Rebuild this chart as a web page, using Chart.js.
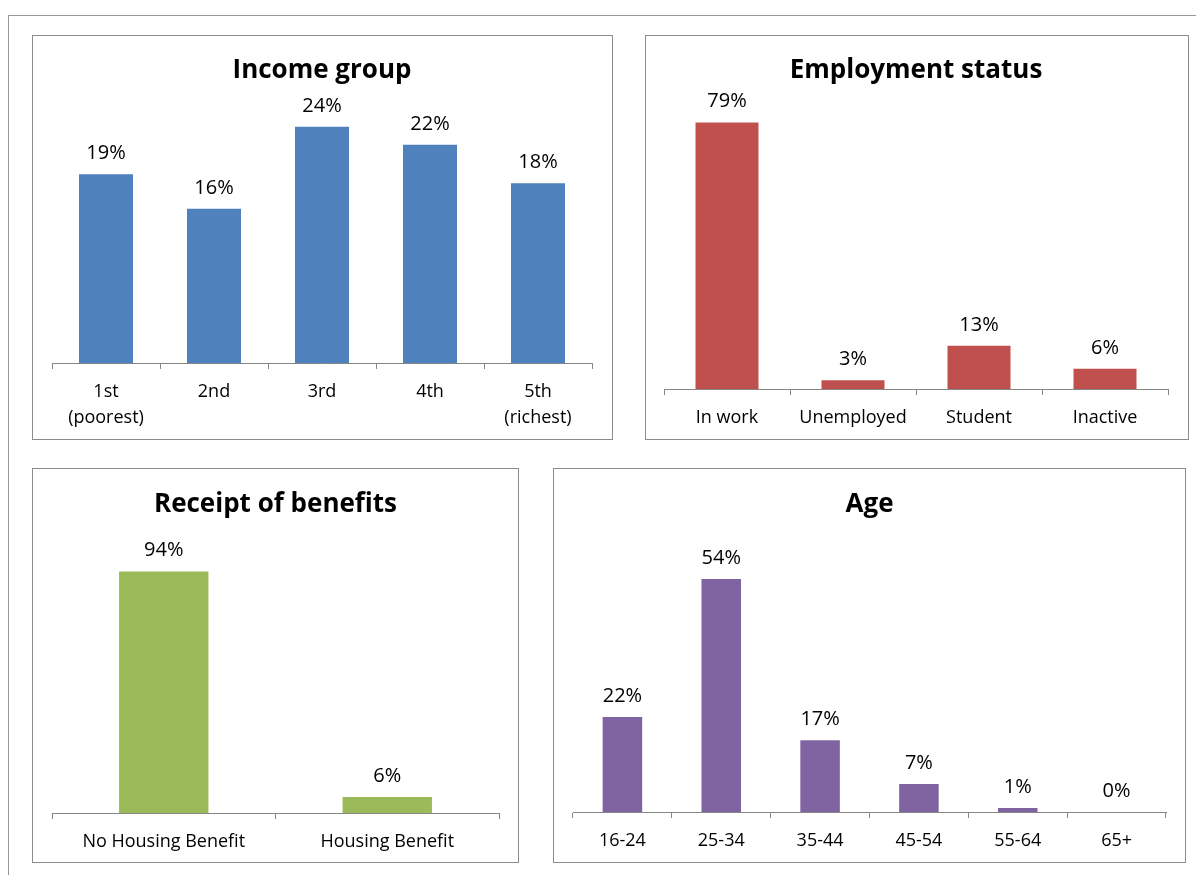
<!DOCTYPE html>
<html>
<head>
<meta charset="utf-8">
<script src="https://cdn.jsdelivr.net/npm/chart.js@4"></script>
<style>
  html, body { margin: 0; padding: 0; background: #fff; }
  body { width: 1196px; height: 875px; position: relative; overflow: hidden; font-family: "Open Sans", sans-serif; }
  .frameTop { position: absolute; left: 8px; top: 15px; width: 1188px; height: 0; border-top: 1px solid #9a9a9a; }
  .frameLeft { position: absolute; left: 8px; top: 15px; width: 0; height: 860px; border-left: 1px solid #9a9a9a; }
  .box { position: absolute; border: 1px solid #8c8c8c; box-sizing: border-box; background: #fff; }
  .box canvas { position: absolute; left: 0; top: 0; }
</style>
</head>
<body>
<div class="frameTop"></div>
<div class="frameLeft"></div>
<div class="box" id="boxIncome"><canvas id="cIncome"></canvas></div>
<div class="box" id="boxEmp"><canvas id="cEmp"></canvas></div>
<div class="box" id="boxBen"><canvas id="cBen"></canvas></div>
<div class="box" id="boxAge"><canvas id="cAge"></canvas></div>
<script>
// ---------- data ----------
const incomeCategories = [['1st', '(poorest)'], '2nd', '3rd', '4th', ['5th', '(richest)']];
const incomeValues = [19.1, 15.6, 23.9, 22.1, 18.2];

const employmentCategories = ['In work', 'Unemployed', 'Student', 'Inactive'];
const employmentValues = [79, 2.6, 12.8, 6];

const benefitCategories = ['No Housing Benefit', 'Housing Benefit'];
const benefitValues = [94, 6.2];

const ageCategories = ['16-24', '25-34', '35-44', '45-54', '55-64', '65+'];
const ageValues = [22, 54, 16.6, 6.5, 0.9, 0];

// ---------- layout (page pixels) ----------
const charts = [
  { canvas: 'cIncome', box: 'boxIncome', title: 'Income group', cats: incomeCategories, vals: incomeValues,
    color: '#4F81BD', bx: 32, by: 35, bw: 581, bh: 405, left: 52, right: 592, axisY: 363, areaTop: 116, titleY: 71, yMax: 25, barPct: 0.5 },
  { canvas: 'cEmp', box: 'boxEmp', title: 'Employment status', cats: employmentCategories, vals: employmentValues,
    color: '#C0504D', bx: 645, by: 35, bw: 544, bh: 405, left: 664, right: 1168, axisY: 389, areaTop: 119, titleY: 71, yMax: 80, barPct: 0.5 },
  { canvas: 'cBen', box: 'boxBen', title: 'Receipt of benefits', cats: benefitCategories, vals: benefitValues,
    color: '#9BBB59', bx: 32, by: 468, bw: 487, bh: 395, left: 52, right: 499, axisY: 813, areaTop: 556, titleY: 505, yMax: 100, barPct: 0.4 },
  { canvas: 'cAge', box: 'boxAge', title: 'Age', cats: ageCategories, vals: ageValues,
    color: '#8064A2', bx: 553, by: 468, bw: 633, bh: 395, left: 573, right: 1166, axisY: 812, areaTop: 553, titleY: 505, yMax: 60, barPct: 0.4 }
];

const FONT = '"Open Sans", sans-serif';
const TITLE_SIZE = 26, TITLE_LH = 30;

const valueLabels = {
  id: 'valueLabels',
  afterDatasetsDraw(chart) {
    const ctx = chart.ctx;
    const meta = chart.getDatasetMeta(0);
    const data = chart.data.datasets[0].data;
    ctx.save();
    ctx.font = '20px ' + FONT;
    ctx.fillStyle = '#000';
    ctx.textAlign = 'center';
    ctx.textBaseline = 'alphabetic';
    meta.data.forEach((bar, i) => {
      ctx.fillText(Math.round(data[i]) + '%', bar.x, bar.y - 15);
    });
    ctx.restore();
  }
};

charts.forEach(c => {
  const box = document.getElementById(c.box);
  box.style.left = c.bx + 'px';
  box.style.top = c.by + 'px';
  box.style.width = c.bw + 'px';
  box.style.height = c.bh + 'px';
  const cv = document.getElementById(c.canvas);
  const cw = c.bw - 2, ch = c.bh - 2;
  cv.style.width = cw + 'px';
  cv.style.height = ch + 'px';
  cv.width = cw; cv.height = ch;
  const cLeft = c.bx + 1, cTop = c.by + 1, cRight = c.bx + c.bw - 1, cBottom = c.by + c.bh - 1;
  const tPadTop = c.titleY - cTop - TITLE_LH / 2;
  const tPadBottom = c.areaTop - cTop - tPadTop - TITLE_LH;
  const axisH = cBottom - c.axisY;

  new Chart(cv, {
    type: 'bar',
    data: {
      labels: c.cats,
      datasets: [{ data: c.vals, backgroundColor: c.color, borderWidth: 0,
                   categoryPercentage: 1, barPercentage: c.barPct }]
    },
    options: {
      responsive: false,
      animation: false,
      devicePixelRatio: 1,
      layout: { padding: { left: c.left - cLeft, right: cRight - c.right, top: 0, bottom: 0 } },
      plugins: {
        legend: { display: false },
        tooltip: { enabled: false },
        title: { display: true, text: c.title, color: '#000',
                 font: { family: FONT, size: TITLE_SIZE, weight: 'bold', lineHeight: TITLE_LH / TITLE_SIZE },
                 padding: { top: tPadTop, bottom: tPadBottom } }
      },
      scales: {
        y: { display: false, min: 0, max: c.yMax },
        x: {
          afterFit(scale) { scale.height = axisH; },
          border: { display: true, color: '#868686', width: 1 },
          grid: { display: true, offset: true, drawOnChartArea: false, drawTicks: true, tickLength: 6, color: '#868686' },
          ticks: { color: '#000', padding: 10, maxRotation: 0, autoSkip: false,
                   font: { family: FONT, size: 18, lineHeight: 1.45 } }
        }
      }
    },
    plugins: [valueLabels]
  });
});
</script>
</body>
</html>
